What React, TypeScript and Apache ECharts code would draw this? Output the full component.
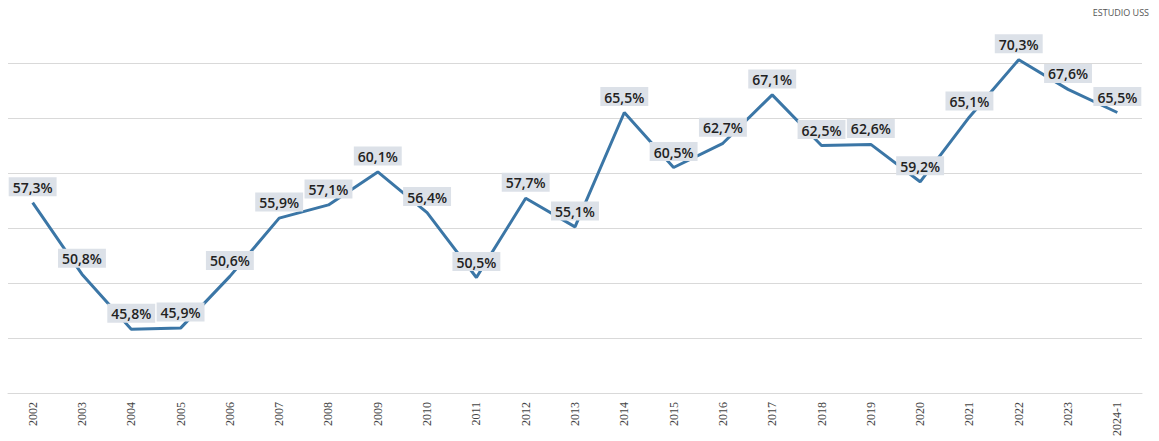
import React, { useEffect, useRef } from "react";
import * as echarts from "echarts";

const categories = ["2002","2003","2004","2005","2006","2007","2008","2009","2010","2011","2012","2013","2014","2015","2016","2017","2018","2019","2020","2021","2022","2023","2024-1"];
const values = [57.3,50.8,45.8,45.9,50.6,55.9,57.1,60.1,56.4,50.5,57.7,55.1,65.5,60.5,62.7,67.1,62.5,62.6,59.2,65.1,70.3,67.6,65.5];
const sourceText = "ESTUDIO USS";

export default function App() {
  const ref = useRef<HTMLDivElement>(null);
  useEffect(() => {
    if (!ref.current) return;
    const chart = echarts.init(ref.current, null, { renderer: "svg" });
    chart.setOption({
      animation: false,
      backgroundColor: "#ffffff",
      grid: { left: 8, right: 17, top: 63, bottom: 48, containLabel: false },
      graphic: [
        {
          type: "text",
          right: 10,
          top: 8,
          style: { text: sourceText, fontSize: 9, fill: "#555", fontFamily: "Open Sans" },
        },
      ],
      xAxis: {
        type: "category",
        data: categories,
        boundaryGap: true,
        axisLine: { show: true, lineStyle: { color: "#d9d9d9", width: 1 } },
        axisTick: { show: false },
        axisLabel: {
          rotate: 90,
          margin: 9,
          fontSize: 12,
          color: "#444",
          fontFamily: "Liberation Serif",
        },
      },
      yAxis: {
        type: "value",
        min: 40,
        max: 70,
        interval: 5,
        axisLabel: { show: false },
        axisLine: { show: false },
        axisTick: { show: false },
        splitLine: { lineStyle: { color: "#d9d9d9", width: 1 } },
      },
      series: [
        {
          type: "line",
          data: values,
          clip: false,
          symbol: "circle",
          symbolSize: 1,
          showSymbol: true,
          itemStyle: { color: "rgba(0,0,0,0)", borderWidth: 0 },
          lineStyle: { color: "#3b76a6", width: 3 },
          label: {
            show: true,
            position: "top",
            distance: 6,
            formatter: (p: any) => p.value.toFixed(1).replace(".", ",") + "%",
            fontFamily: "Open Sans",
            fontWeight: 600,
            fontSize: 14,
            color: "#222",
            backgroundColor: "#dce1e8",
            padding: [3, 4, 2, 4],
          },
        },
      ],
    });
    return () => chart.dispose();
  }, []);
  return (
    <div
      ref={ref}
      style={{ position: "fixed", left: 0, top: 0, width: 1159, height: 441 }}
    />
  );
}
